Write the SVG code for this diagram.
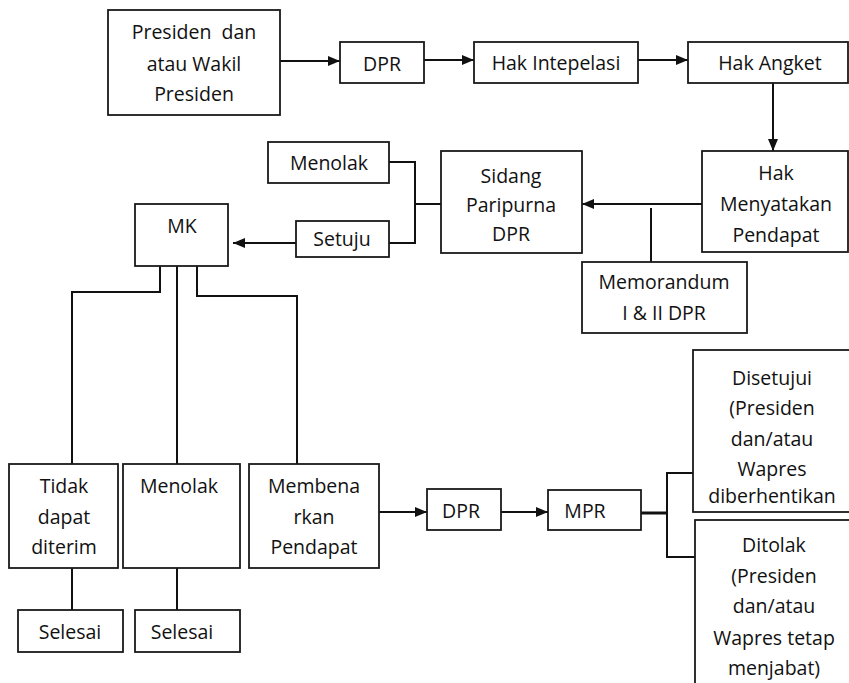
<svg xmlns="http://www.w3.org/2000/svg" width="849" height="683" viewBox="0 0 849 683">
  <style>
    .box { fill: #ffffff; stroke: #1a1a1a; stroke-width: 1.8; }
    .ln { fill: none; stroke: #111111; stroke-width: 2; }
    .arr { marker-end: url(#head); }
    text { font-family: "Open Sans", "Noto Sans", "DejaVu Sans", sans-serif; font-size: 19.5px; text-anchor: middle; fill: #111111; }
  </style>
  <defs>
    <marker id="head" markerUnits="userSpaceOnUse" markerWidth="12" markerHeight="10" refX="12" refY="5" orient="auto">
      <path d="M0,0 L12,5 L0,10 Z" fill="#111111"/>
    </marker>
  </defs>
  <rect width="849" height="683" fill="#ffffff"/>

  <!-- connectors -->
  <g id="connectors">
    <path class="ln arr" d="M280,61 H340"/>
    <path class="ln arr" d="M424,60 H474"/>
    <path class="ln arr" d="M638,60 H688"/>
    <path class="ln arr" d="M773,83 V151"/>
    <path class="ln arr" d="M702,204 H582"/>
    <path class="ln" d="M651,208 V262"/>
    <path class="ln" d="M389,162 H415 V243 H389"/>
    <path class="ln" d="M415,204 H441"/>
    <path class="ln arr" d="M296,243 H233"/>
    <path class="ln" d="M160,261 V292 H72 V464"/>
    <path class="ln" d="M177,266 V464"/>
    <path class="ln" d="M197,266 V296 H297 V464"/>
    <path class="ln" d="M72,568 V610"/>
    <path class="ln" d="M177,568 V610"/>
    <path class="ln arr" d="M379,512 H427"/>
    <path class="ln arr" d="M501,512 H548"/>
    <path class="ln" style="stroke-width:3" d="M641,513 H667"/>
    <path class="ln" d="M693,473 H667 V557 H695"/>
  </g>

  <g id="presiden">
    <rect class="box" x="108" y="10" width="172" height="105"/>
    <text x="194" y="39" style="white-space:pre">Presiden  dan</text>
    <text x="194" y="71">atau Wakil</text>
    <text x="194" y="101">Presiden</text>
  </g>
  <g id="dpr1">
    <rect class="box" x="340" y="42" width="84" height="41"/>
    <text x="382" y="71">DPR</text>
  </g>
  <g id="hak-intepelasi">
    <rect class="box" x="474" y="42" width="164" height="41"/>
    <text x="556" y="70">Hak Intepelasi</text>
  </g>
  <g id="hak-angket">
    <rect class="box" x="688" y="42" width="160" height="41"/>
    <text x="770" y="70">Hak Angket</text>
  </g>
  <g id="hak-menyatakan">
    <rect class="box" x="702" y="151" width="146" height="101"/>
    <text x="776" y="180">Hak</text>
    <text x="776" y="211">Menyatakan</text>
    <text x="776" y="242">Pendapat</text>
  </g>
  <g id="memorandum">
    <rect class="box" x="582" y="262" width="165" height="71"/>
    <text x="664" y="289">Memorandum</text>
    <text x="664" y="320">I &amp; II DPR</text>
  </g>
  <g id="sidang">
    <rect class="box" x="441" y="151" width="141" height="102"/>
    <text x="511" y="183">Sidang</text>
    <text x="511" y="212">Paripurna</text>
    <text x="511" y="241">DPR</text>
  </g>
  <g id="menolak-dpr">
    <rect class="box" x="268" y="142" width="121" height="41"/>
    <text x="329" y="170">Menolak</text>
  </g>
  <g id="setuju">
    <rect class="box" x="296" y="221" width="93" height="36"/>
    <text x="342" y="246">Setuju</text>
  </g>
  <g id="mk">
    <rect class="box" x="135" y="204" width="93" height="62"/>
    <text x="182" y="233">MK</text>
  </g>
  <g id="tidak-diterima">
    <rect class="box" x="9" y="464" width="109" height="104"/>
    <text x="64" y="493">Tidak</text>
    <text x="64" y="524">dapat</text>
    <text x="64" y="554">diterim</text>
  </g>
  <g id="menolak-mk">
    <rect class="box" x="123" y="464" width="117" height="104"/>
    <text x="179" y="493">Menolak</text>
  </g>
  <g id="membenarkan">
    <rect class="box" x="249" y="464" width="130" height="104"/>
    <text x="314" y="493">Membena</text>
    <text x="314" y="524">rkan</text>
    <text x="314" y="554">Pendapat</text>
  </g>
  <g id="selesai-1">
    <rect class="box" x="18" y="610" width="105" height="42"/>
    <text x="70" y="639">Selesai</text>
  </g>
  <g id="selesai-2">
    <rect class="box" x="135" y="610" width="105" height="42"/>
    <text x="182" y="639">Selesai</text>
  </g>
  <g id="dpr2">
    <rect class="box" x="427" y="489" width="74" height="41"/>
    <text x="461" y="518">DPR</text>
  </g>
  <g id="mpr">
    <rect class="box" x="548" y="490" width="93" height="40"/>
    <text x="585" y="518">MPR</text>
  </g>
  <g id="disetujui">
    <rect class="box" x="693" y="350" width="170" height="162"/>
    <text x="772" y="385">Disetujui</text>
    <text x="772" y="415">(Presiden</text>
    <text x="772" y="446">dan/atau</text>
    <text x="772" y="476">Wapres</text>
    <text x="772" y="503">diberhentikan</text>
  </g>
  <g id="ditolak">
    <rect class="box" x="695" y="520" width="170" height="180"/>
    <text x="774" y="552">Ditolak</text>
    <text x="774" y="583">(Presiden</text>
    <text x="774" y="613">dan/atau</text>
    <text x="774" y="645">Wapres tetap</text>
    <text x="774" y="675">menjabat)</text>
  </g>
</svg>
